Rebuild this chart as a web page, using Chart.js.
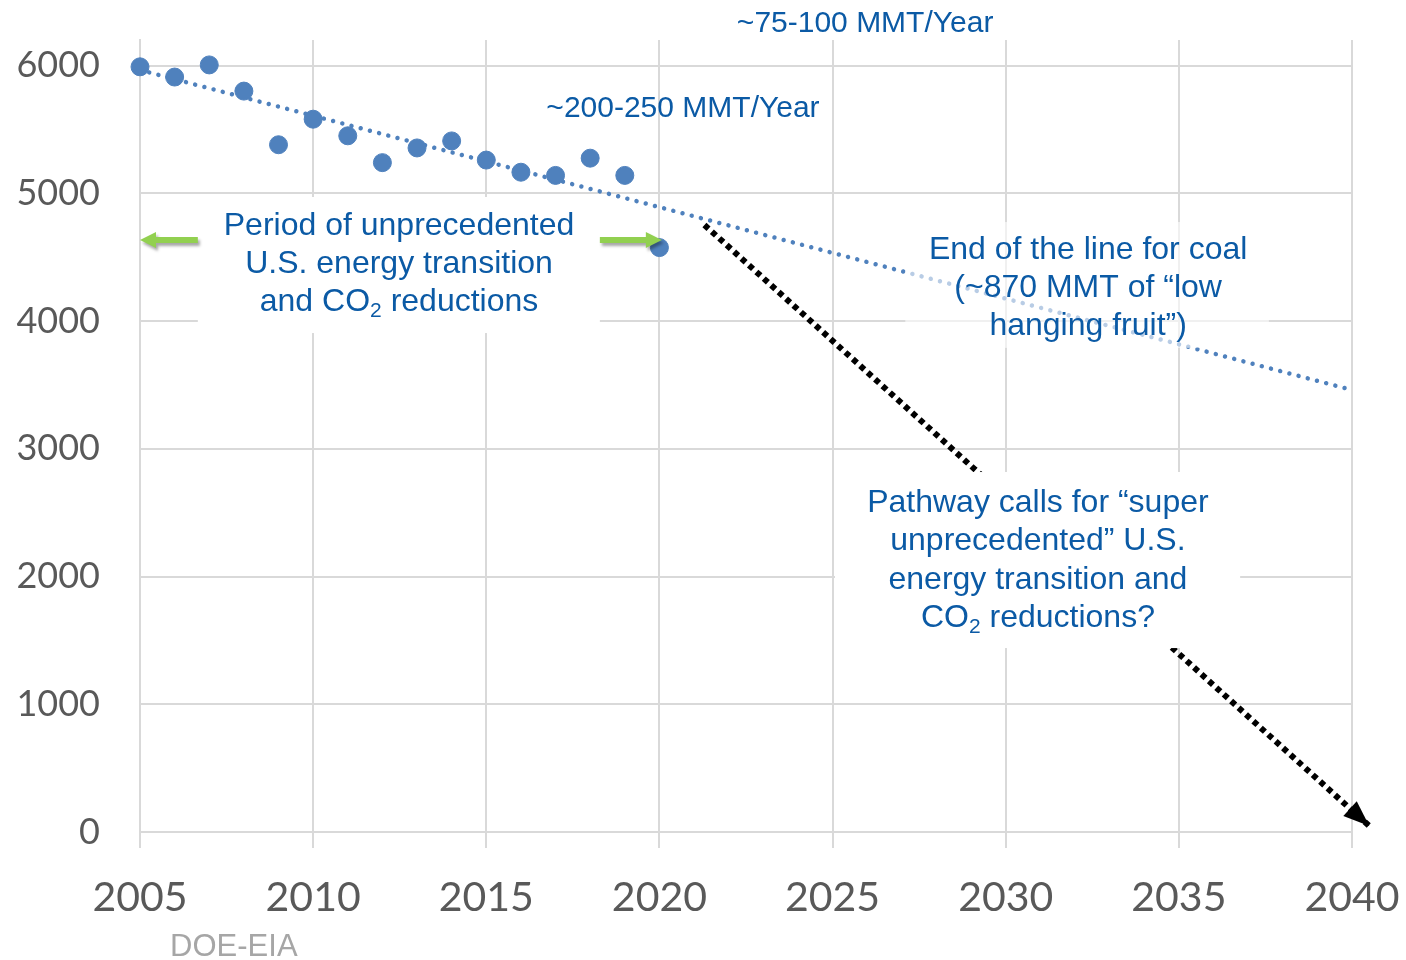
<!DOCTYPE html>
<html>
<head>
<meta charset="utf-8">
<script src="https://cdn.jsdelivr.net/npm/chart.js@4/dist/chart.umd.min.js"></script>
<style>
  html, body { margin: 0; padding: 0; background: #fff; }
  canvas { display: block; }
</style>
</head>
<body>
<canvas id="co2-chart" width="1406" height="960" style="width:1406px;height:960px"></canvas>
<script>
// US energy CO2 emissions (MMT), DOE-EIA
const years = [2005, 2006, 2007, 2008, 2009, 2010, 2011, 2012, 2013, 2014, 2015, 2016, 2017, 2018, 2019, 2020];
const emissions = [5990, 5910, 6005, 5800, 5380, 5580, 5450, 5240, 5355, 5410, 5260, 5165, 5140, 5275, 5140, 4575];

// linear trend drawn by the source chart
const trendYears = [2005, 2040];
const trendValues = [5965, 3460];

// "super unprecedented" pathway arrow
const pathYears = [2021.3, 2040.5];
const pathValues = [4752, 47];

const yTicks = [0, 1000, 2000, 3000, 4000, 5000, 6000];

const BLUE_TEXT = '#0b5aa5';
const GRID = '#d9d9d9';

// annotation boxes and texts, positioned in data units (year, MMT)
const boxes = [
    { x0: 2006.67, x1: 2018.28, y0: 3906, y1: 4971, alpha: 1 },
    { x0: 2027.1, x1: 2037.6, y0: 3790, y1: 4775, alpha: 0.6 },
    { x0: 2025.07, x1: 2036.77, y0: 1440, y1: 2818, alpha: 1 }
];
const notes = [
    { x: 2012.48, ys: [4744, 4447, 4149], lines: ['Period of unprecedented', 'U.S. energy transition', 'and CO_2 reductions'] },
    { x: 2032.38, ys: [4556, 4259, 3961], lines: ['End of the line for coal', '(~870 MMT of \u201clow', 'hanging fruit\u201d)'] },
    { x: 2030.93, ys: [2576, 2278, 1973, 1675], lines: ['Pathway calls for \u201csuper', 'unprecedented\u201d U.S.', 'energy transition and', 'CO_2 reductions?'] }
];
const rateNotes = [
    { x: 2020.68, y: 5660, text: '~200-250 MMT/Year' },
    { x: 2025.94, y: 6330, text: '~75-100 MMT/Year' }
];
const greenArrows = [
    { from: 2006.67, to: 2005, y: 4634 },
    { from: 2018.28, to: 2020.07, y: 4634 }
];

function drawRichLine(ctx, str, cx, cy, size) {
    // '_2' marks a subscript digit
    const parts = str.split(/(_\d)/).filter(p => p.length);
    const big = size + 'px "Liberation Sans", Arial, sans-serif';
    const small = Math.round(size * 0.66) + 'px "Liberation Sans", Arial, sans-serif';
    let total = 0;
    parts.forEach(p => {
        ctx.font = p[0] === '_' ? small : big;
        total += ctx.measureText(p[0] === '_' ? p.slice(1) : p).width;
    });
    let xPos = cx - total / 2;
    ctx.textAlign = 'left';
    ctx.textBaseline = 'middle';
    parts.forEach(p => {
        const sub = p[0] === '_';
        const t = sub ? p.slice(1) : p;
        ctx.font = sub ? small : big;
        ctx.fillText(t, xPos, sub ? cy + size * 0.3 : cy);
        xPos += ctx.measureText(t).width;
    });
}

const annotations = {
    id: 'annotations',
    afterDatasetsDraw(chart) {
        const { ctx, scales: { x, y } } = chart;
        ctx.save();

        // arrow head on the pathway line
        const pts = chart.getDatasetMeta(2).data;
        const a = pts[0], b = pts[pts.length - 1];
        const ang = Math.atan2(b.y - a.y, b.x - a.x);
        const hl = 26, hw = 10;
        ctx.fillStyle = '#000';
        ctx.beginPath();
        ctx.moveTo(b.x, b.y);
        ctx.lineTo(b.x - hl * Math.cos(ang) + hw * Math.sin(ang), b.y - hl * Math.sin(ang) - hw * Math.cos(ang));
        ctx.lineTo(b.x - hl * Math.cos(ang) - hw * Math.sin(ang), b.y - hl * Math.sin(ang) + hw * Math.cos(ang));
        ctx.closePath();
        ctx.fill();

        // text boxes
        boxes.forEach(bx => {
            ctx.fillStyle = 'rgba(255,255,255,' + bx.alpha + ')';
            const l = x.getPixelForValue(bx.x0), r = x.getPixelForValue(bx.x1);
            const t = y.getPixelForValue(bx.y1), btm = y.getPixelForValue(bx.y0);
            ctx.fillRect(l, t, r - l, btm - t);
        });

        ctx.fillStyle = BLUE_TEXT;
        notes.forEach(n => {
            n.lines.forEach((line, i) => {
                drawRichLine(ctx, line, x.getPixelForValue(n.x), y.getPixelForValue(n.ys[i]), 32);
            });
        });

        ctx.font = '30px "Liberation Sans Narrow", "Arial Narrow", "Liberation Sans", sans-serif';
        ctx.textAlign = 'center';
        ctx.textBaseline = 'middle';
        rateNotes.forEach(r => ctx.fillText(r.text, x.getPixelForValue(r.x), y.getPixelForValue(r.y)));

        // green arrows
        ctx.shadowColor = 'rgba(0,0,0,0.35)';
        ctx.shadowOffsetX = 2;
        ctx.shadowOffsetY = 3;
        ctx.shadowBlur = 3;
        ctx.fillStyle = '#92d050';
        greenArrows.forEach(g => {
            const x0 = x.getPixelForValue(g.from), x1 = x.getPixelForValue(g.to), yy = y.getPixelForValue(g.y);
            const dir = Math.sign(x1 - x0);
            ctx.beginPath();
            ctx.moveTo(x0, yy - 3);
            ctx.lineTo(x1 - dir * 16, yy - 3);
            ctx.lineTo(x1 - dir * 16, yy - 8);
            ctx.lineTo(x1, yy);
            ctx.lineTo(x1 - dir * 16, yy + 8);
            ctx.lineTo(x1 - dir * 16, yy + 3);
            ctx.lineTo(x0, yy + 3);
            ctx.closePath();
            ctx.fill();
        });
        ctx.shadowColor = 'transparent';

        // source
        ctx.fillStyle = '#a6a6a6';
        ctx.font = '31px "Liberation Sans Narrow", "Liberation Sans", sans-serif';
        ctx.fillText('DOE-EIA', x.getPixelForValue(2007.71), y.getPixelForValue(-900));

        ctx.restore();
    }
};

const ctx = document.getElementById('co2-chart').getContext('2d');
new Chart(ctx, {
    type: 'scatter',
    data: {
        datasets: [
            {
                label: 'CO2 emissions',
                data: years.map((yr, i) => ({ x: yr, y: emissions[i] })),
                backgroundColor: '#4f81bd',
                borderColor: '#4f81bd',
                pointRadius: 9,
                pointHoverRadius: 9,
                clip: false,
                order: 1
            },
            {
                label: 'Trend',
                type: 'line',
                data: trendYears.map((yr, i) => ({ x: yr, y: trendValues[i] })),
                borderColor: '#4f81bd',
                borderWidth: 4.5,
                borderDash: [0.01, 9.5],
                borderCapStyle: 'round',
                pointRadius: 0,
                fill: false,
                clip: false,
                order: 2
            },
            {
                label: 'Pathway',
                type: 'line',
                data: pathYears.map((yr, i) => ({ x: yr, y: pathValues[i] })),
                borderColor: '#000',
                borderWidth: 6,
                borderDash: [5.5, 4.5],
                pointRadius: 0,
                fill: false,
                clip: false,
                order: 3
            }
        ]
    },
    options: {
        responsive: false,
        animation: false,
        layout: { padding: { top: 40, right: 54, left: 0, bottom: 0 } },
        plugins: {
            legend: { display: false },
            tooltip: { enabled: false }
        },
        scales: {
            x: {
                type: 'linear',
                min: 2005,
                max: 2040,
                ticks: {
                    stepSize: 5,
                    callback: v => String(v),
                    color: '#595959',
                    font: { family: 'Lato, "Open Sans", sans-serif', size: 41 },
                    padding: 25,
                    maxRotation: 0
                },
                grid: { color: GRID, lineWidth: 2, tickLength: 16 },
                border: { color: GRID, width: 2 },
                afterFit(s) {
                    s.height = 128;
                    s.paddingLeft = 0;
                    s.paddingRight = 0;
                }
            },
            y: {
                min: 0,
                max: 6200,
                afterBuildTicks(s) { s.ticks = yTicks.map(v => ({ value: v })); },
                ticks: {
                    callback: v => String(v),
                    color: '#595959',
                    font: { family: 'Lato, "Open Sans", sans-serif', size: 36 },
                    padding: 40
                },
                grid: { color: GRID, lineWidth: 2, drawTicks: false },
                border: { color: GRID, width: 2 },
                afterFit(s) {
                    s.width = 140;
                    s.paddingTop = 0;
                    s.paddingBottom = 0;
                }
            }
        }
    },
    plugins: [annotations]
});
</script>
</body>
</html>
